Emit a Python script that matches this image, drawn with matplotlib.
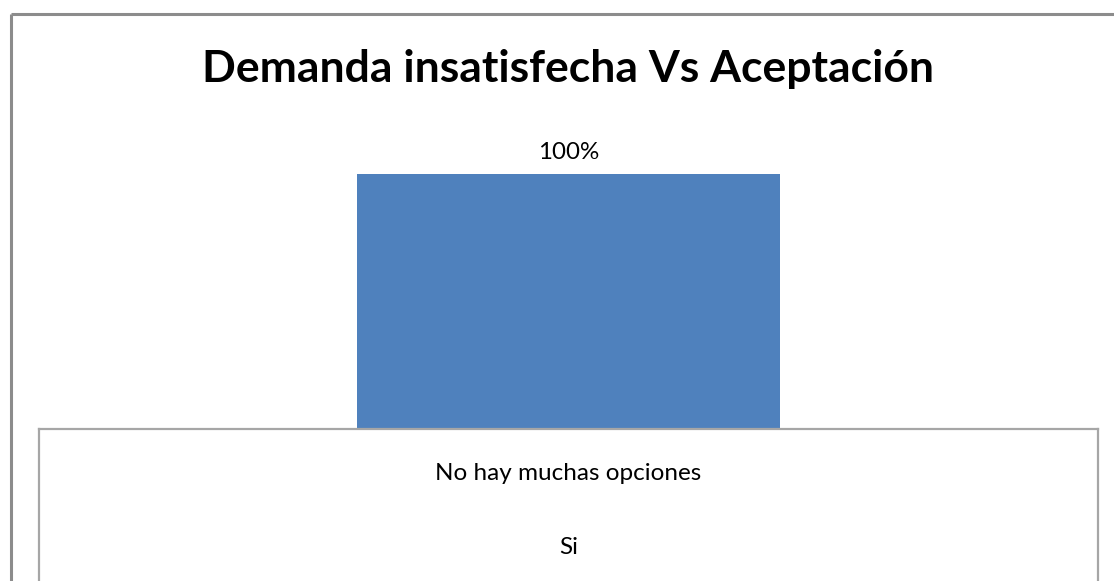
import matplotlib
matplotlib.use("Agg")
import matplotlib.pyplot as plt
from matplotlib.lines import Line2D

# Chart data
title = "Demanda insatisfecha Vs Aceptación"
categories = ["No hay muchas opciones"]
series_name = "Si"
values = [100]  # percent

W, H = 1114, 581
fig = plt.figure(figsize=(W / 100, H / 100), dpi=100)
plt.rcParams["font.family"] = ["Lato", "DejaVu Sans"]


def fx(px):
    return px / W


def fy(py):
    return 1 - py / H


# Outer chart frame (left and top edges)
border_col = "#8c8c8c"
fig.add_artist(Line2D([fx(10.5), fx(10.5)], [fy(13.5), fy(H + 5)], color=border_col, lw=2.2,
                      transform=fig.transFigure, solid_capstyle="butt"))
fig.add_artist(Line2D([fx(10.5), fx(W + 5)], [fy(13.5), fy(13.5)], color=border_col, lw=2.2,
                      transform=fig.transFigure, solid_capstyle="butt"))

# Title
fig.text(fx(568), fy(69), title, ha="center", va="center", fontsize=32,
         fontweight="bold", color="black")

# Plot area
left, right, top, bottom = 39, 1098, 174, 429
ax = fig.add_axes([fx(left), fy(bottom), fx(right) - fx(left), fy(top) - fy(bottom)])
x = list(range(len(categories)))
bars = ax.bar(x, values, width=0.4, color="#4F81BD", zorder=2)
ax.set_xlim(-0.5, len(categories) - 0.5)
ax.set_ylim(0, 100)
for b, v in zip(bars, values):
    ax.annotate(f"{v}%", (b.get_x() + b.get_width() / 2, v), xytext=(0, 15.5),
                textcoords="offset points", ha="center", va="center",
                fontsize=17.4, color="black", annotation_clip=False)
ax.axis("off")

# Data table under the bars
tbl_col = "#a6a6a6"
for xs, ys in [([left, left], [bottom, H + 5]),
               ([left, right], [bottom, bottom]),
               ([right, right], [bottom, H + 5])]:
    fig.add_artist(Line2D([fx(v) for v in xs], [fy(v) for v in ys], color=tbl_col, lw=1.6,
                          transform=fig.transFigure, solid_capstyle="projecting"))

for i, cat in enumerate(categories):
    cx = ax.transData.transform((i, 0))[0] / (W)
    fig.text(cx, fy(473), cat, ha="center", va="center", fontsize=17.5, color="black")
    fig.text(cx, fy(547), series_name, ha="center", va="center", fontsize=17.5, color="black")

fig.savefig("out.png", dpi=100, facecolor="white")
